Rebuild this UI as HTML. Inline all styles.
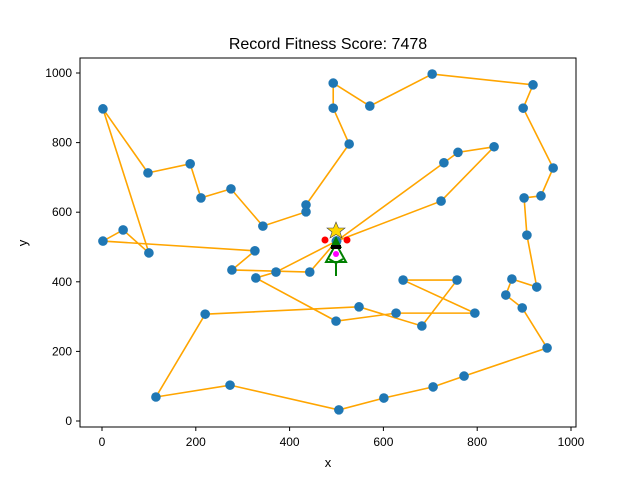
<!DOCTYPE html>
<html><head><meta charset="utf-8"><style>
body{margin:0;background:#fff;}
svg{display:block;font-family:"Liberation Sans",sans-serif;}
</style></head><body>
<svg id="chart" width="640" height="480">
<rect width="640" height="480" fill="#fff"/>
<text x="328" y="49" font-size="16" text-anchor="middle">Record Fitness Score: 7478</text>
<g id="grid"></g>
<g id="route"></g>
<g id="pts"></g>
<g id="tree">
<polygon points="326,262 336,244 346,262" fill="none" stroke="green" stroke-width="2"/>
<line x1="336" y1="262" x2="336" y2="276" stroke="green" stroke-width="2"/>
<line x1="329" y1="259" x2="336" y2="263" stroke="green" stroke-width="2"/>
<line x1="343" y1="259" x2="336" y2="263" stroke="green" stroke-width="2"/>
<polygon points="330,248 336,236 342,248" fill="green"/>
<rect x="331" y="245" width="10" height="4" fill="#000"/>
<circle cx="325" cy="240" r="3.5" fill="red"/>
<circle cx="347" cy="240" r="3.5" fill="red"/>
<circle cx="336" cy="254" r="3" fill="magenta"/>
<polygon points="336,222 338.5,228 345,228 340,232 342,238 336,234.5 330,238 332,232 327,228 333.5,228" fill="gold" stroke="#444" stroke-width="0.6"/>
</g>
<rect x="80" y="58" width="496" height="369" fill="none" stroke="#000" stroke-width="1"/>
<text x="328" y="467" font-size="13" text-anchor="middle">x</text>
<text x="27" y="243" font-size="13" text-anchor="middle" transform="rotate(-90 27 243)">y</text>
</svg>
<script>
const xs=[500,371,328,499,627,795,642,757,682,548,220,115,273,505,601,706,772,949,896,861,874,927,906,900,936,962,898,919,704,571,493,493,527,435,435,343,275,211,188,98,2,100,45,2,326,277,443,500,723,836,759,729,500];
const ys=[517,428,411,287,310,310,405,405,273,328,307,69,103,32,66,98,129,210,325,362,408,385,534,641,647,727,899,966,997,905,971,899,796,621,601,560,667,641,739,713,897,483,549,517,489,434,428,517,632,788,772,742,517];
const xTicks=[0,200,400,600,800,1000];
const yTicks=[0,200,400,600,800,1000];
const NS="http://www.w3.org/2000/svg";
const X=v=>102+v*0.469, Y=v=>421-v*0.348;
const grid=document.getElementById('grid');
xTicks.forEach(t=>{
 const l=document.createElementNS(NS,'line');
 l.setAttribute('x1',X(t));l.setAttribute('x2',X(t));l.setAttribute('y1',427);l.setAttribute('y2',431);l.setAttribute('stroke','#000');
 
 
 grid.appendChild(l);
 const tx=document.createElementNS(NS,'text');
 tx.setAttribute('x',X(t));tx.setAttribute('y',446);tx.setAttribute('font-size','12');tx.setAttribute('text-anchor','middle');tx.textContent=t;
 
 
 grid.appendChild(tx);
});
yTicks.forEach(t=>{
 const l=document.createElementNS(NS,'line');
 l.setAttribute('x1',76);l.setAttribute('x2',80);l.setAttribute('y1',Y(t));l.setAttribute('y2',Y(t));l.setAttribute('stroke','#000');
 
 
 grid.appendChild(l);
 const tx=document.createElementNS(NS,'text');
 tx.setAttribute('x',72);tx.setAttribute('y',Y(t)+4);tx.setAttribute('font-size','12');tx.setAttribute('text-anchor','end');tx.textContent=t;
 
 
 grid.appendChild(tx);
});
const pl=document.createElementNS(NS,'polyline');
pl.setAttribute('points',xs.map((v,i)=>X(v)+','+Y(ys[i])).join(' '));
pl.setAttribute('fill','none');pl.setAttribute('stroke','orange');pl.setAttribute('stroke-width','1.6');


document.getElementById('route').appendChild(pl);
const pts=document.getElementById('pts');
xs.forEach((v,i)=>{
 const c=document.createElementNS(NS,'circle');
 c.setAttribute('cx',X(v));c.setAttribute('cy',Y(ys[i]));c.setAttribute('r',4.8);c.setAttribute('fill','#1f77b4');
 
 
 pts.appendChild(c);
});
</script>
</body></html>
